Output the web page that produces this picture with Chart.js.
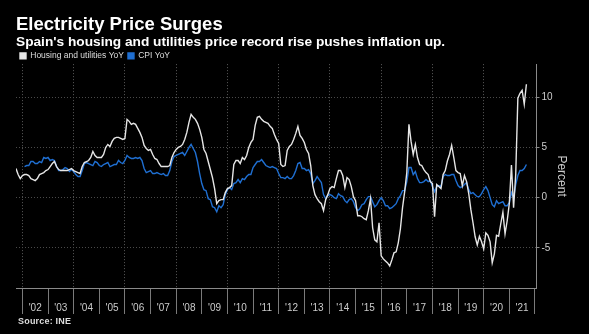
<!DOCTYPE html>
<html><head><meta charset="utf-8">
<script src="https://cdn.jsdelivr.net/npm/chart.js@4/dist/chart.umd.min.js"></script>
<style>
html,body{margin:0;padding:0;background:#000;overflow:hidden}
#wrap{position:relative;width:589px;height:334px;background:#000}
#source{position:absolute;left:18px;top:316px;font:bold 9px "Liberation Sans",Arial,sans-serif;color:#ddd;letter-spacing:0.2px}
</style></head><body>
<div id="wrap"><canvas id="c"></canvas><div id="source">Source: INE</div></div>
<script>
// Housing and utilities YoY, monthly, Sep 2001 - Aug 2021
const housingStart = [2001, 9];
const housingYoY = [
  2.9, 2.3, 1.9, 2.2,
  2.3, 2.3, 2.2, 1.9, 1.8, 1.7, 1.9, 2.3, 2.4, 2.5, 2.7, 2.8,
  3.1, 3.4, 3.6, 3.1, 2.8, 2.7, 2.7, 2.7, 2.7, 2.8, 2.9, 2.7,
  2.6, 2.5, 2.4, 3.1, 3.5, 3.6, 3.7, 4.0, 4.6, 4.2, 4.0, 4.0,
  4.0, 4.3, 5.0, 5.3, 5.1, 5.6, 5.9, 6.0, 6.0, 5.9, 5.8, 5.9,
  7.8, 7.6, 7.3, 7.4, 7.3, 6.9, 6.5, 6.0, 5.2, 4.9, 4.7, 4.8,
  4.3, 3.9, 3.8, 3.4, 3.1, 3.1, 3.1, 3.1, 3.2, 4.0, 4.5, 4.8,
  5.0, 5.1, 5.3, 5.8, 6.5, 7.5, 8.3, 8.0, 7.8, 7.4, 6.8, 6.0,
  4.8, 4.4, 3.6, 2.8, 2.0, 0.9, -0.6, -0.3, -0.2, -0.2, 0.5, 0.9,
  1.0, 1.2, 3.3, 3.7, 3.7, 3.4, 4.0, 3.8, 4.2, 5.0, 5.5, 5.8,
  7.2, 8.0, 8.1, 7.8, 7.6, 7.5, 7.4, 7.1, 6.9, 6.3, 5.8, 5.4,
  3.3, 3.1, 3.2, 4.7, 5.1, 5.3, 5.8, 6.4, 7.1, 6.2, 5.9, 5.5,
  4.8, 4.4, 3.2, 1.2, 0.3, -0.1, -0.4, -0.6, -1.3, -0.2, 0.3, 0.9,
  1.1, 1.0, 1.9, 2.7, 2.7, 2.2, 1.0, 2.0, 1.8, 1.1, 0.1, -0.3,
  -1.8, -1.8, -1.9, -2.1, -2.2, -1.3, -0.1, -3.0, -4.2, -4.4, -2.5, -5.8,
  -6.1, -6.3, -6.5, -6.8, -6.2, -5.5, -5.4, -4.5, -3.1, -1.0, 0.6, 2.5,
  7.3, 5.6, 4.3, 5.3, 4.0, 3.3, 3.2, 2.8, 2.5, 2.3, 1.6, 1.4,
  -1.9, 1.3, 1.1, 0.9, 2.3, 2.7, 3.65, 4.3, 5.2, 4.0, 2.7, 2.5,
  2.4, 1.2, 2.2, 1.6, 0.4, -1.2, -2.5, -3.9, -4.7, -3.85, -4.4, -5.1,
  -3.5, -3.75, -4.4, -6.5, -5.6, -3.75, -3.85, -2.6, -1.45, -3.6, -2.3, -0.6,
  3.25, -1.0, 2.3, 9.9, 10.4, 10.7, 9.3, 11.3
];
// CPI YoY, monthly, Jan 2002 - Aug 2021
const cpiStart = [2002, 1];
const cpiYoY = [
  3.1, 3.2, 3.2, 3.6, 3.6, 3.4, 3.4, 3.6, 3.5, 4.0, 3.9, 4.0,
  3.7, 3.8, 3.7, 3.1, 2.7, 2.7, 2.8, 3.0, 2.9, 2.6, 2.8, 2.6,
  2.3, 2.1, 2.1, 2.7, 3.4, 3.5, 3.4, 3.3, 3.2, 3.6, 3.5, 3.2,
  3.1, 3.3, 3.4, 3.5, 3.1, 3.2, 3.3, 3.3, 3.7, 3.5, 3.4, 3.7,
  4.2, 4.0, 3.9, 3.9, 4.0, 3.9, 4.0, 3.7, 2.9, 2.5, 2.6, 2.7,
  2.4, 2.4, 2.5, 2.4, 2.3, 2.4, 2.2, 2.2, 2.7, 3.6, 4.1, 4.2,
  4.3, 4.4, 4.5, 4.2, 4.6, 5.0, 5.3, 4.9, 4.5, 3.6, 2.4, 1.4,
  0.8, 0.7, -0.1, -0.2, -0.9, -1.0, -1.4, -0.8, -1.0, -0.7, 0.3, 0.8,
  1.0, 0.8, 1.4, 1.5, 1.8, 1.5, 1.9, 1.8, 2.1, 2.3, 2.3, 3.0,
  3.3, 3.6, 3.6, 3.8, 3.5, 3.2, 3.1, 3.0, 3.1, 3.0, 2.9, 2.4,
  2.0, 2.0, 1.9, 2.1, 1.9, 1.9, 2.2, 2.7, 3.4, 3.5, 2.9, 2.9,
  2.7, 2.8, 2.4, 1.4, 1.7, 2.1, 1.8, 1.5, 0.3, -0.1, 0.2, 0.3,
  0.2, 0.0, -0.1, 0.4, 0.2, 0.1, -0.3, -0.5, -0.2, -0.1, -0.4, -1.0,
  -1.3, -1.1, -0.7, -0.6, -0.2, 0.1, 0.1, -0.4, -0.9, -0.7, -0.3, 0.0,
  -0.3, -0.8, -0.8, -1.1, -1.0, -0.8, -0.6, -0.1, 0.2, 0.7, 0.7, 1.6,
  3.0, 3.0, 2.3, 2.6, 1.9, 1.5, 1.5, 1.6, 1.8, 1.6, 1.7, 1.1,
  0.6, 1.1, 1.2, 1.1, 2.1, 2.3, 2.2, 2.2, 2.3, 2.3, 1.7, 1.2,
  1.0, 1.1, 1.3, 1.5, 0.8, 0.4, 0.5, 0.3, 0.1, 0.1, 0.4, 0.8,
  1.1, 0.7, 0.0, -0.7, -0.9, -0.3, -0.6, -0.5, -0.4, -0.8, -0.8, -0.5,
  0.5, 0.0, 1.3, 2.2, 2.7, 2.7, 2.9, 3.3
];
const firstYear = 2002;
const yearLabels = ["'02","'03","'04","'05","'06","'07","'08","'09","'10","'11",
                    "'12","'13","'14","'15","'16","'17","'18","'19","'20","'21"];
const yTickValues = [-5, 0, 5, 10];

const SANS = '"Liberation Sans",Arial,sans-serif';

function toPoints(start, vals) {
  return vals.map((v, i) => ({ x: start[0] + (start[1] + i) / 12, y: v }));
}
function isBoundary(v) { return Math.abs(v - Math.round(v)) < 1e-6; }

// tighten the fixed gap Chart.js leaves below the legend row
if (Chart.Legend && Chart.Legend._element) {
  const LegendEl = Chart.Legend._element;
  const origFit = LegendEl.prototype.fit;
  LegendEl.prototype.fit = function () { origFit.call(this); this.height = Math.max(0, this.height - 6); };
}

const WHITE = '#e6e6e6';
const BLUE = '#1f6fd2';
const TRANSP = 'rgba(0,0,0,0)';

new Chart(document.getElementById('c'), {
  type: 'line',
  data: {
    datasets: [
      { label: 'Housing and utilities YoY', data: toPoints(housingStart, housingYoY),
        borderColor: WHITE, backgroundColor: WHITE, borderWidth: 1.4, pointRadius: 0, tension: 0 },
      { label: 'CPI YoY', data: toPoints(cpiStart, cpiYoY),
        borderColor: BLUE, backgroundColor: BLUE, borderWidth: 1.4, pointRadius: 0, tension: 0 }
    ]
  },
  options: {
    responsive: true,
    maintainAspectRatio: false,
    animation: false,
    devicePixelRatio: 1,
    layout: { padding: { top: 13, left: 16, right: 14, bottom: 19 } },
    plugins: {
      title: { display: true, text: 'Electricity Price Surges', align: 'start', color: '#ffffff',
        font: { family: SANS, size: 18.5, weight: 'bold', lineHeight: 1.2 }, padding: { top: 1, bottom: 0 } },
      subtitle: { display: true, text: "Spain's housing and utilities price record rise pushes inflation up.",
        align: 'start', color: '#ffffff', font: { family: SANS, size: 13.7, weight: 'bold', lineHeight: 1.2 },
        padding: { top: -2, bottom: -3 } },
      legend: { display: true, align: 'start',
        labels: { color: '#dddddd', boxWidth: 6, boxHeight: 6, padding: 4,
          font: { family: SANS, size: 8.5 } } },
      tooltip: { enabled: false }
    },
    scales: {
      x: {
        type: 'linear', position: 'bottom', min: 2001.75, max: 2022.06,
        afterBuildTicks: (scale) => {
          const t = [];
          for (let i = 0; i <= yearLabels.length; i++) {
            t.push({ value: firstYear + i });
            if (i < yearLabels.length) t.push({ value: firstYear + i + 0.5 });
          }
          scale.ticks = t;
        },
        afterFit: (scale) => { scale.height = 27; },
        ticks: { autoSkip: false, maxRotation: 0, color: '#cccccc', padding: -12,
          font: { family: SANS, size: 10 },
          callback: (v) => isBoundary(v) ? '' : yearLabels[Math.floor(v) - firstYear] },
        grid: {
          drawOnChartArea: true, tickLength: 26, lineWidth: 1,
          color: (ctx) => {
            const v = ctx.tick ? ctx.tick.value : null;
            if (v === null || !isBoundary(v)) return TRANSP;
            const y = Math.round(v);
            return (y % 2 === 0 && y < 2022) ? '#5a5a5a' : TRANSP;
          },
          tickColor: (ctx) => (ctx.tick && isBoundary(ctx.tick.value)) ? '#7a7a7a' : TRANSP
        },
        border: { display: true, color: '#8a8a8a', width: 1, dash: [1, 2] }
      },
      y: {
        type: 'linear', position: 'right', min: -9, max: 13.3,
        afterBuildTicks: (scale) => { scale.ticks = yTickValues.map(v => ({ value: v })); },
        ticks: { color: '#cccccc', padding: 2, font: { family: SANS, size: 10 } },
        grid: { drawOnChartArea: true, color: '#4a4a4a', tickColor: '#8a8a8a', tickLength: 3, lineWidth: 1 },
        border: { display: true, color: '#8a8a8a', width: 1, dash: [1, 2] },
        title: { display: true, text: 'Percent', color: '#cccccc',
          font: { family: SANS, size: 12 }, padding: { top: 6, bottom: 0 } }
      }
    }
  }
});
</script>
</body></html>
